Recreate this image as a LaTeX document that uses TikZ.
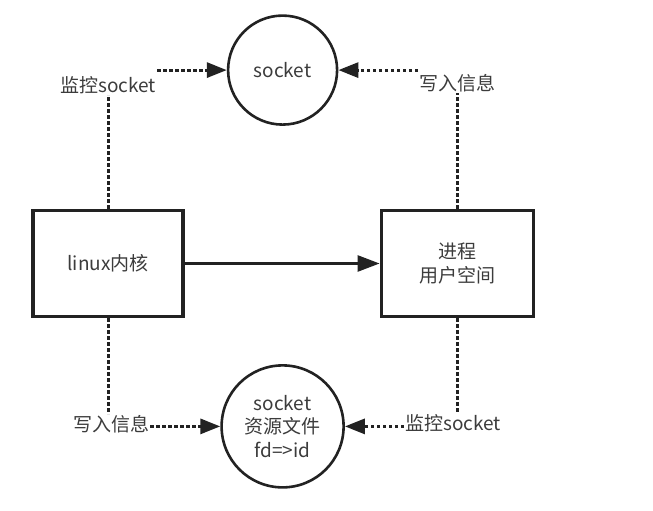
\documentclass[tikz,border=0pt]{standalone}
\usepackage{fontspec}
\setmainfont{Noto Sans CJK SC}
\usetikzlibrary{arrows.meta,positioning,calc}
\definecolor{lineDark}{HTML}{222222}
\definecolor{textGray}{HTML}{3C3C3C}
\tikzset{
    sockFont/.style={font=\fontsize{19}{23.5}\selectfont, text=textGray},
    procBox/.style={
        rectangle,
        draw=lineDark,
        line width=3.2pt,
        minimum width=150pt,
        minimum height=106pt,
        align=center,
        sockFont
    },
    sockCircle/.style={
        circle,
        draw=lineDark,
        line width=2.6pt,
        inner sep=0pt,
        align=center,
        sockFont
    },
    linkLabel/.style={sockFont, inner sep=1pt},
    % connectors
    dotLink/.style={draw=lineDark, line width=3pt, dash pattern=on 3.5pt off 2.5pt},
    dashLink/.style={dotLink, -{Triangle[length=20pt,width=15pt]}},
    flowLink/.style={draw=lineDark, line width=2.6pt, -{Triangle[length=22pt,width=16pt]}}
}
\begin{document}
\begin{tikzpicture}[x=1pt, y=1pt]
\useasboundingbox (0,0) rectangle (653,511);

\node[procBox] (kern) at (108,247.5) {linux内核};
\node[procBox, minimum width=152pt, right=195pt of kern] (proc) {进程\\用户空间};
\node[sockCircle, minimum size=109pt, above=83pt of $(kern.north)!0.5!(proc.north)$] (sock) {socket};
\node[sockCircle, minimum size=122pt, below=46pt of $(kern.south)!0.5!(proc.south)$] (fdfile) {socket\\资源文件\\fd=>id};

\node[linkLabel, above=114pt of kern] (kernWatch) {监控socket};
\node[linkLabel, above=116pt of proc] (procWrite) {写入信息};
\node[linkLabel, below=96pt of kern, xshift=3pt] (kernWrite) {写入信息};
\node[linkLabel, below=95pt of proc, xshift=-4pt] (procWatch) {监控socket};

\coordinate (kw) at (kernWatch.east |- sock.west);
\coordinate (pw) at (procWrite.west |- sock.east);
\coordinate (kf) at (kernWrite.east |- fdfile.west);
\coordinate (pf) at (procWatch.west |- fdfile.east);

\draw[flowLink] (kern) -- (proc);

\draw[dotLink] (kern.north) -- (kernWatch.south);
\draw[dashLink] (kw) -- (sock.west);
\draw[dotLink] (proc.north) -- (procWrite.south);
\draw[dashLink] (pw) -- (sock.east);

\draw[dotLink] (kern.south) -- (kernWrite.north -| kern.south);
\draw[dashLink] (kf) -- (fdfile.west);
\draw[dotLink] (proc.south) -- (procWatch.north -| proc.south);
\draw[dashLink] (pf) -- (fdfile.east);
\end{tikzpicture}
\end{document}
